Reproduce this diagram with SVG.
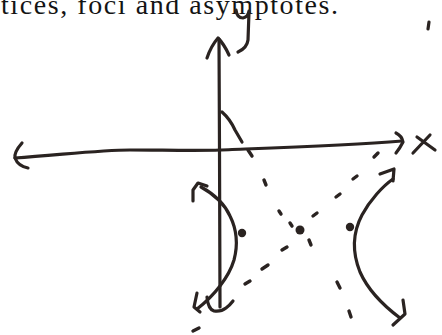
<svg xmlns="http://www.w3.org/2000/svg" width="442" height="335" viewBox="0 0 442 335">
<style>
.ink{fill:none;stroke:#2a2321;stroke-width:3.2;stroke-linecap:round;stroke-linejoin:round}
.dash{fill:none;stroke:#2a2321;stroke-width:3.4;stroke-linecap:round}
.dot{fill:#2a2321}
.txt{font-family:"Liberation Serif","Times New Roman",serif;font-size:28px;fill:#141414}
</style>
<rect width="442" height="335" fill="#ffffff"/>
<text class="txt" x="1" y="14" textLength="337" lengthAdjust="spacing">tices, foci and asymptotes.</text>
<g id="x-axis">
<path class="ink" d="M15,158 C60,155 100,150 130,150 S200,151 220,150 S340,146 402,141"/>
<path class="ink" d="M22,143 Q14,152 15,158 Q18,166 28,168"/>
<path class="ink" d="M396,133 Q402,136 403,142 Q400,148 396,153"/>
<path class="ink" d="M417,137 L435,150 M430,135 L413,153"/>
</g>
<g id="y-axis">
<path class="ink" d="M219,39 L219.5,150 L220,307"/>
<path class="ink" d="M207,58 Q211,46 218,38 Q224,44 229,55"/>
<path class="ink" d="M207,297 Q208,309 214,311 Q221,312 226,308 Q230,305 233,301"/>
<path class="ink" d="M236,10 Q237,18 243,18 Q248,17 249,11 M249,12 L248,40 Q247,48 238,52"/>
</g>
<g id="asymptotes">
<path class="ink" d="M222,112 Q230,119 235,130 L242,142"/>
<path class="dash" d="M248,150 L252,156 M264,180 L266,185 M279,211 L281,214 M290,223 L292,226 M309,240 L311,245 M337,282 L340,288 M349,311 L351,317"/>
<path class="dash" d="M193,331 L199,328 M245,284 L250,281 M262,269 L268,265 M282,250 L287,247 M313,216 L317,213 M336,197 L340,194 M353,179 L357,176 M374,157 L378,153"/>
<circle class="dot" cx="300" cy="230" r="4.5"/>
</g>
<g id="left-branch">
<path class="ink" d="M201,187 C212,193 224,203 230,216 C237,230 238,245 234,260 C229,277 214,296 197,309"/>
<path class="ink" d="M207,186 L198,183 L193,190 L193,201"/>
<path class="ink" d="M197,293 L194,307 L200,312"/>
<circle class="dot" cx="242" cy="233" r="4.2"/>
</g>
<g id="right-branch">
<path class="ink" d="M393,179 C383,186 370,200 362,215 C353,232 352,252 360,272 C368,290 384,306 400,318"/>
<path class="ink" d="M380,174 L394,169 L393,181"/>
<path class="ink" d="M403,300 L405,314 L393,325"/>
<circle class="dot" cx="350" cy="227" r="4.2"/>
</g>
<path class="ink" d="M429,22 L428,29"/>
</svg>
